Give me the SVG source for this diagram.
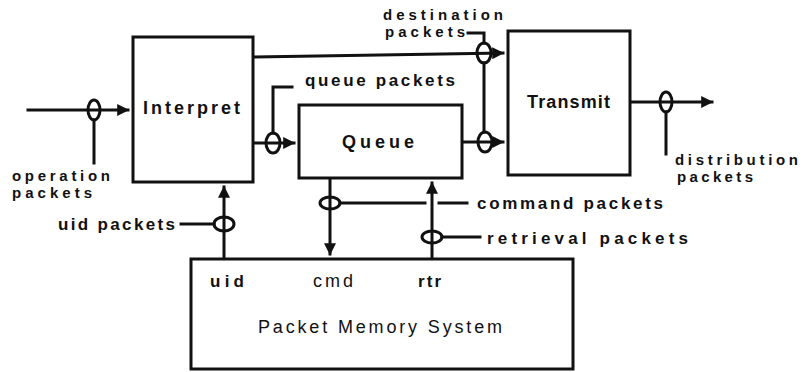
<svg xmlns="http://www.w3.org/2000/svg" width="804" height="372" viewBox="0 0 804 372">
<style>
.box{fill:#fff;stroke:#111;stroke-width:3}
.ln{fill:none;stroke:#111;stroke-width:3;stroke-linecap:square}
.lp{fill:none;stroke:#111;stroke-width:3}
.t{font-family:"Liberation Sans",Arial,sans-serif;font-weight:bold;font-size:17px;fill:#111}
.t2{font-family:"Liberation Sans",Arial,sans-serif;font-weight:bold;font-size:15px;fill:#111}
.bt{font-family:"Liberation Sans",Arial,sans-serif;font-weight:bold;font-size:18px;fill:#111}
.pm{font-family:"Liberation Sans",Arial,sans-serif;font-size:18px;fill:#111}
</style>
<defs>
<marker id="ah" viewBox="0 0 10 10" refX="9" refY="5" markerWidth="4.5" markerHeight="4" orient="auto" markerUnits="strokeWidth">
<path d="M0,0 L10,5 L0,10 Z" fill="#111"/>
</marker>
</defs>
<rect width="804" height="372" fill="#fff"/>

<g id="interpret">
<rect class="box" x="133" y="37" width="120" height="145"/>
<text class="bt" x="143" y="114" textLength="97" lengthAdjust="spacing">Interpret</text>
</g>
<g id="queue">
<rect class="box" x="299" y="105" width="163" height="73"/>
<text class="bt" x="342" y="148" textLength="72" lengthAdjust="spacing">Queue</text>
</g>
<g id="transmit">
<rect class="box" x="508" y="31" width="122" height="144"/>
<text class="bt" x="527" y="108" textLength="83" lengthAdjust="spacing">Transmit</text>
</g>
<g id="pms">
<rect class="box" x="191" y="259" width="382" height="110"/>
<text class="t" x="210" y="287" textLength="34" lengthAdjust="spacing">uid</text>
<text class="pm" x="313" y="287" textLength="40" lengthAdjust="spacing">cmd</text>
<text class="t" x="418" y="287" textLength="23" lengthAdjust="spacing">rtr</text>
<text class="pm" x="258" y="333" textLength="244" lengthAdjust="spacing">Packet Memory System</text>
</g>

<g id="connectors">
<!-- operation input -->
<path class="ln" d="M28,110 L128,110" marker-end="url(#ah)"/>
<ellipse class="lp" cx="94" cy="110" rx="6" ry="10"/>
<path class="ln" d="M94,120 L94,163"/>
<!-- destination -->
<path class="ln" d="M254,57 L503,53" marker-end="url(#ah)"/>
<ellipse class="lp" cx="484" cy="53" rx="7" ry="10"/>
<path class="ln" d="M468,33 L484,33 L484,43"/>
<path class="ln" d="M484,63 L484,132"/>
<!-- queue to transmit -->
<path class="ln" d="M463,142 L503,142" marker-end="url(#ah)"/>
<ellipse class="lp" cx="485" cy="142" rx="7" ry="10"/>
<!-- interpret to queue -->
<path class="ln" d="M254,143 L294,143" marker-end="url(#ah)"/>
<ellipse class="lp" cx="273" cy="143" rx="7" ry="10"/>
<path class="ln" d="M273,133 L273,87 L292,87"/>
<!-- uid -->
<path class="ln" d="M224,258 L224,187" marker-end="url(#ah)"/>
<ellipse class="lp" cx="224" cy="224" rx="10" ry="7"/>
<path class="ln" d="M181,224 L214,224"/>
<!-- cmd -->
<path class="ln" d="M330,179 L330,254" marker-end="url(#ah)"/>
<ellipse class="lp" cx="330" cy="203" rx="10" ry="6"/>
<path class="ln" d="M340,203 L425,203"/>
<path class="ln" d="M439,203 L467,203"/>
<!-- rtr -->
<path class="ln" d="M432,258 L432,183" marker-end="url(#ah)"/>
<ellipse class="lp" cx="432" cy="237" rx="10" ry="6"/>
<path class="ln" d="M442,237 L480,237"/>
<!-- distribution -->
<path class="ln" d="M631,102 L712,102" marker-end="url(#ah)"/>
<ellipse class="lp" cx="666" cy="102" rx="6" ry="10"/>
<path class="ln" d="M666,112 L666,154"/>
</g>

<g id="labels">
<text class="t2" x="383" y="20" textLength="120" lengthAdjust="spacing">destination</text>
<text class="t2" x="385" y="37" textLength="80" lengthAdjust="spacing">packets</text>
<text class="t" x="305" y="86" textLength="150" lengthAdjust="spacing">queue packets</text>
<text class="t2" x="12" y="181" textLength="98" lengthAdjust="spacing">operation</text>
<text class="t2" x="12" y="198" textLength="80" lengthAdjust="spacing">packets</text>
<text class="t" x="58" y="230" textLength="117" lengthAdjust="spacing">uid packets</text>
<text class="t" x="477" y="209" textLength="186" lengthAdjust="spacing">command packets</text>
<text class="t" x="487" y="244" textLength="201" lengthAdjust="spacing">retrieval packets</text>
<text class="t2" x="675" y="165" textLength="123" lengthAdjust="spacing">distribution</text>
<text class="t2" x="677" y="182" textLength="76" lengthAdjust="spacing">packets</text>
</g>
</svg>
